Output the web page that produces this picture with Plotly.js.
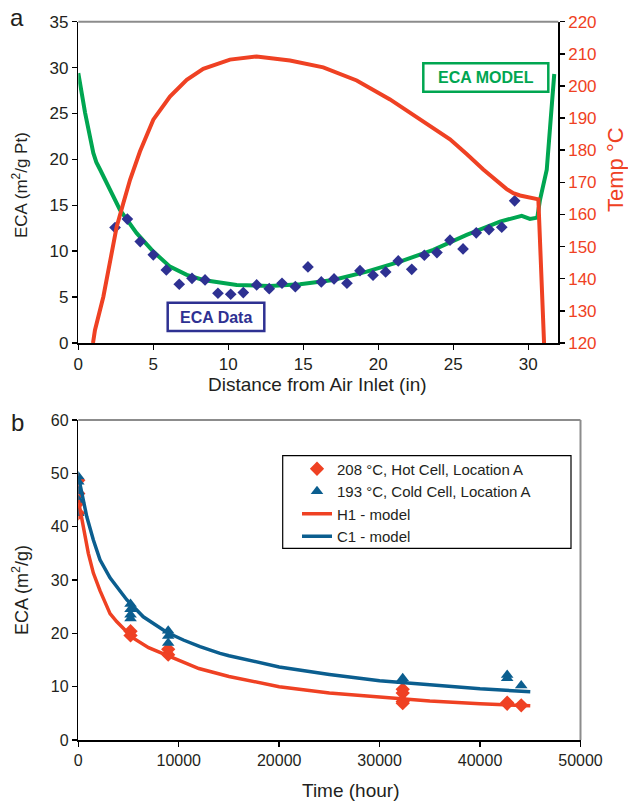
<!DOCTYPE html>
<html>
<head>
<meta charset="utf-8">
<script src="https://cdn.plot.ly/plotly-3.0.1.min.js"></script>
<style>html,body{margin:0;padding:0;background:#fff;}#chart{width:628px;height:803px;}</style>
</head>
<body>
<div id="chart"></div>
<script>
// ---------- Panel a data ----------
const ecaDataX = [2.45,3.27,4.13,5.0,5.87,6.73,7.58,8.45,9.31,10.16,11.0,11.89,12.73,13.58,14.47,15.31,16.2,17.05,17.91,18.78,19.65,20.49,21.33,22.23,23.07,23.91,24.78,25.65,26.53,27.38,28.23,29.09];
const ecaDataY = [12.57,13.5,11.05,9.6,7.96,6.4,7.05,6.87,5.42,5.31,5.49,6.33,5.92,6.51,6.14,8.29,6.65,6.98,6.51,7.88,7.38,7.74,8.94,8.03,9.56,9.85,11.2,10.25,12.0,12.36,12.62,15.49];
const ecaModelX = [0,0.45,1.0,1.2,1.45,1.89,2.78,3.89,5.0,6.11,7.23,8.33,10.56,12.78,14.78,17.0,19.23,21.45,23.67,25.89,28.11,29.56,30.11,30.6,30.78,31.23,31.73];
const ecaModelY = [29.4,25.1,20.7,19.7,18.9,17.4,14.5,11.96,9.96,8.32,7.42,6.87,6.33,6.22,6.4,6.87,7.78,8.87,10.14,11.78,13.23,13.85,13.52,13.66,15.6,18.87,29.3];
const tempX = [0.98,1.11,1.67,2.11,2.56,3.0,3.45,4.11,5.0,6.11,7.23,8.33,10.11,11.89,14.11,16.33,18.56,20.78,21.9,23.0,24.0,24.78,25.89,27.0,28.56,29.0,29.45,30.0,30.67,31.05];
const tempY = [120,124,134.4,145.9,156.2,163.5,170.8,179.6,189.5,196.7,201.9,205.3,208.2,209.2,207.9,205.8,201.7,195.8,192.4,188.8,186.0,183.4,178.8,174.0,167.9,166.6,165.9,165.3,164.7,120];

// ---------- Panel b data ----------
const hotT = [0,0,0,0,5200,5200,8950,8950,32300,32300,32300,32300,42700,42700,44100];
const hotE = [48.7,46.2,44.5,42.5,20.4,19.6,17.0,16.0,9.5,8.8,7.2,6.9,7.0,6.8,6.5];
const coldT = [0,0,0,0,0,5200,5200,5200,5200,8950,8950,8950,32300,32300,42700,42700,44100];
const coldE = [49.4,48.4,46.6,45.0,42.5,25.5,24.5,23.5,22.8,20.5,19.5,18.2,11.6,11.0,12.2,11.6,10.2];
const h1T = [0,250,600,1000,1500,2160,3160,3820,4820,5480,7000,8800,10000,12000,15000,20000,25000,30000,35000,40000,45000];
const h1E = [45.0,42.5,38.5,35.0,31.3,28.0,23.7,22.2,20.3,19.1,17.3,15.9,14.9,13.4,11.9,10.0,8.8,8.0,7.3,6.8,6.4];
const c1T = [0,170,840,1500,2160,3160,4820,6470,8800,10460,12120,14110,15000,20000,25000,30000,35000,40000,45000];
const c1E = [49.5,48.1,41.9,37.5,33.8,30.4,26.3,23.1,20.2,18.75,17.5,16.25,15.8,13.7,12.3,11.1,10.3,9.6,9.06];

const RED = '#ef4123', GREEN = '#00a651', NAVY = '#2e3192', BLUE = '#0b5e8f';
const FONT = 'Arial, "Liberation Sans", sans-serif';
const W = 628, H = 803;
const px = v => v / W, py = v => 1 - v / H;

const traces = [
  {x: tempX, y: tempY, xaxis: 'x', yaxis: 'y3', mode: 'lines', line: {color: RED, width: 4}, showlegend: false},
  {x: ecaModelX, y: ecaModelY, xaxis: 'x', yaxis: 'y', mode: 'lines', line: {color: GREEN, width: 4}, showlegend: false},
  {x: ecaDataX, y: ecaDataY, xaxis: 'x', yaxis: 'y', mode: 'markers', marker: {symbol: 'diamond', size: 9, color: NAVY}, showlegend: false},
  {x: hotT, y: hotE, xaxis: 'x2', yaxis: 'y2', mode: 'markers', name: '208 °C, Hot Cell, Location A', marker: {symbol: 'diamond', size: 11, color: RED}},
  {x: coldT, y: coldE, xaxis: 'x2', yaxis: 'y2', mode: 'markers', name: '193 °C, Cold Cell, Location A', marker: {symbol: 'triangle-up', size: 11, color: BLUE}},
  {x: h1T, y: h1E, xaxis: 'x2', yaxis: 'y2', mode: 'lines', name: 'H1 - model', line: {color: RED, width: 3.5}},
  {x: c1T, y: c1E, xaxis: 'x2', yaxis: 'y2', mode: 'lines', name: 'C1 - model', line: {color: BLUE, width: 3.5}}
];

const axBase = {showgrid: false, zeroline: false, showline: true, linecolor: '#000', linewidth: 1.5, ticks: 'outside', ticklen: 5, tickwidth: 1.5, tickcolor: '#000', tickfont: {family: FONT, size: 17, color: '#231f20'}};

const layout = {
  width: W, height: H,
  margin: {l: 0, r: 0, t: 0, b: 0},
  paper_bgcolor: '#fff', plot_bgcolor: 'rgba(0,0,0,0)',
  font: {family: FONT},
  xaxis: Object.assign({}, axBase, {domain: [px(78.3), px(558.3)], anchor: 'y', range: [0, 32], tickvals: [0,5,10,15,20,25,30]}),
  yaxis: Object.assign({}, axBase, {domain: [py(343), py(21.7)], anchor: 'x', range: [0, 35], dtick: 5}),
  yaxis3: Object.assign({}, axBase, {overlaying: 'y', side: 'right', anchor: 'x', range: [120, 220], dtick: 10, tickfont: {family: FONT, size: 17, color: RED}}),
  xaxis2: Object.assign({}, axBase, {domain: [px(78.3), px(580.5)], anchor: 'y2', range: [0, 50000], dtick: 10000, tickformat: 'd', tickfont: {family: FONT, size: 16, color: '#231f20'}}),
  yaxis2: Object.assign({}, axBase, {domain: [py(740), py(420)], anchor: 'x2', range: [0, 60], dtick: 10, tickfont: {family: FONT, size: 16, color: '#231f20'}}),
  showlegend: true,
  legend: {x: px(297), y: py(452.5), xanchor: 'left', yanchor: 'top', borderwidth: 0, bgcolor: 'rgba(0,0,0,0)', font: {family: FONT, size: 15, color: '#231f20'}, tracegroupgap: 0},
  shapes: [
    {type: 'line', xref: 'paper', yref: 'paper', x0: px(78.3), x1: px(558.3), y0: py(21.7), y1: py(21.7), line: {color: '#8c8c8c', width: 2}},
    {type: 'line', xref: 'paper', yref: 'paper', x0: px(78.3), x1: px(580.5), y0: py(420), y1: py(420), line: {color: '#8c8c8c', width: 2}},
    {type: 'line', xref: 'paper', yref: 'paper', x0: px(580.5), x1: px(580.5), y0: py(420), y1: py(740), line: {color: '#8c8c8c', width: 2}},
    {type: 'rect', xref: 'paper', yref: 'paper', x0: px(167.7), x1: px(264.3), y0: py(331), y1: py(302.7), line: {color: NAVY, width: 2.5}, fillcolor: '#fff'},
    {type: 'rect', xref: 'paper', yref: 'paper', x0: px(423.3), x1: px(548.3), y0: py(91.7), y1: py(63.3), line: {color: GREEN, width: 2.5}, fillcolor: '#fff'},
    {type: 'rect', xref: 'paper', yref: 'paper', x0: px(282.7), x1: px(571), y0: py(548.3), y1: py(455.7), line: {color: '#000', width: 1.2}, fillcolor: '#fff'}
  ],
  annotations: [
    {text: 'ECA Data', xref: 'paper', yref: 'paper', x: px(216), y: py(317), xanchor: 'center', yanchor: 'middle', showarrow: false, font: {family: FONT, size: 16, color: NAVY, weight: 'bold'}},
    {text: 'ECA MODEL', xref: 'paper', yref: 'paper', x: px(485.8), y: py(77.5), xanchor: 'center', yanchor: 'middle', showarrow: false, font: {family: FONT, size: 16, color: GREEN, weight: 'bold'}},
    {text: 'a', xref: 'paper', yref: 'paper', x: px(17), y: py(18), xanchor: 'center', yanchor: 'middle', showarrow: false, font: {family: FONT, size: 24, color: '#231f20'}},
    {text: 'b', xref: 'paper', yref: 'paper', x: px(17), y: py(422), xanchor: 'center', yanchor: 'middle', showarrow: false, font: {family: FONT, size: 24, color: '#231f20'}},
    {text: 'ECA (m<sup>2</sup>/g Pt)', xref: 'paper', yref: 'paper', x: px(20), y: py(185), xanchor: 'center', yanchor: 'middle', textangle: -90, showarrow: false, font: {family: FONT, size: 17, color: '#231f20'}},
    {text: 'Temp °C', xref: 'paper', yref: 'paper', x: px(616), y: py(170), xanchor: 'center', yanchor: 'middle', textangle: -90, showarrow: false, font: {family: FONT, size: 22, color: RED}},
    {text: 'Distance from Air Inlet (in)', xref: 'paper', yref: 'paper', x: px(317), y: py(385), xanchor: 'center', yanchor: 'middle', showarrow: false, font: {family: FONT, size: 19, color: '#231f20'}},
    {text: 'ECA (m<sup>2</sup>/g)', xref: 'paper', yref: 'paper', x: px(20), y: py(590), xanchor: 'center', yanchor: 'middle', textangle: -90, showarrow: false, font: {family: FONT, size: 18, color: '#231f20'}},
    {text: 'Time (hour)', xref: 'paper', yref: 'paper', x: px(350), y: py(790), xanchor: 'center', yanchor: 'middle', showarrow: false, font: {family: FONT, size: 19, color: '#231f20'}}
  ]
};

Plotly.newPlot('chart', traces, layout, {staticPlot: true, displayModeBar: false});
</script>
</body>
</html>
